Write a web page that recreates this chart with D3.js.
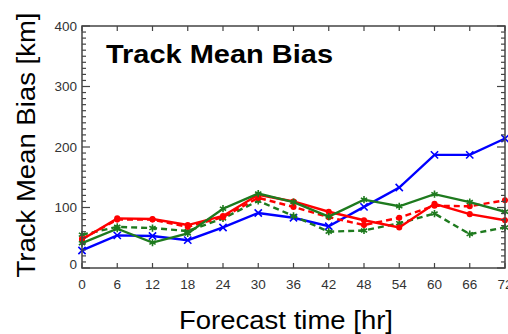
<!DOCTYPE html>
<html>
<head>
<meta charset="utf-8">
<script src="https://cdn.jsdelivr.net/npm/d3@7"></script>
<style>
  html, body { margin: 0; padding: 0; background: #fff; }
  svg { display: block; font-family: "Liberation Sans", Arial, sans-serif; }
</style>
</head>
<body>
<svg id="chart" width="508" height="334"></svg>
<script>
const hours = [0, 6, 12, 18, 24, 30, 36, 42, 48, 54, 60, 66, 72];
const blueSolid  = [29, 54, 53, 46, 67, 91, 83, 69, 101, 133, 187, 187, 214];
const redSolid   = [47, 82, 81, 71, 86, 121, 110, 93, 79, 67, 106, 89, 79];
const redDashed  = [48, 80, 80, 68, 84, 116, 101, 84, 71, 83, 103, 102, 112];
const greenSolid = [41, 65, 42, 57, 98, 123, 109, 85, 113, 102, 122, 109, 93];
const greenDashed= [55, 68, 66, 61, 82, 111, 86, 60, 62, 74, 90, 56, 67];
const yTicks = [0, 100, 200, 300, 400];
const xTicks = hours;
const titleText = "Track Mean Bias";
const xLabel = "Forecast time [hr]";
const yLabel = "Track Mean Bias [km]";

const series = [
  { name: "blue",  values: blueSolid,  color: "#0000ff", dash: null,  sym: d3.symbolTimes },
  { name: "gdash", values: greenDashed, color: "#1e7a1e", dash: "6,4", sym: d3.symbolAsterisk },
  { name: "rdash", values: redDashed,  color: "#ff0000", dash: "6,4", sym: d3.symbolCircle },
  { name: "red",   values: redSolid,   color: "#ff0000", dash: null,  sym: d3.symbolCircle },
  { name: "green", values: greenSolid, color: "#1e7a1e", dash: null,  sym: d3.symbolAsterisk }
];

const L = 82, R = 505, T = 26, B = 268;
const svg = d3.select("#chart");
const x = d3.scaleLinear().domain([0, 72]).range([L, R]);
const y = d3.scaleLinear().domain([0, 400]).range([B, T]);

// series
const line = d3.line().x((d, i) => x(hours[i])).y(d => y(d));
const plot = svg.append("g");
series.forEach(s => {
  plot.append("path")
    .attr("d", line(s.values))
    .attr("fill", "none")
    .attr("stroke", s.color)
    .attr("stroke-width", 2.4)
    .attr("stroke-dasharray", s.dash);
  plot.selectAll(null).data(s.values).enter().append("path")
    .attr("transform", (d, i) => `translate(${x(hours[i])},${y(d)})`)
    .attr("d", d3.symbol().type(s.sym).size(s.sym === d3.symbolCircle ? 16 : 36))
    .attr("fill", s.sym === d3.symbolCircle ? s.color : "none")
    .attr("stroke", s.color)
    .attr("stroke-width", 1.6);
});

// axes box
const axisColor = "#444";
svg.append("rect").attr("x", L).attr("y", T).attr("width", R - L).attr("height", B - T)
  .attr("fill", "none").attr("stroke", axisColor).attr("stroke-width", 1.5);

// y ticks (minor every 10, major every 100) both sides, inward
const yMinor = d3.range(0, 401, 10);
const ytk = svg.append("g").attr("stroke", axisColor).attr("stroke-width", 1.2);
yMinor.forEach(v => {
  const len = v % 100 === 0 ? 8 : 4;
  ytk.append("line").attr("x1", L).attr("x2", L + len).attr("y1", y(v)).attr("y2", y(v));
  ytk.append("line").attr("x1", R).attr("x2", R - len).attr("y1", y(v)).attr("y2", y(v));
});
// x ticks top and bottom, inward
xTicks.forEach(v => {
  ytk.append("line").attr("x1", x(v)).attr("x2", x(v)).attr("y1", B).attr("y2", B - 5);
  ytk.append("line").attr("x1", x(v)).attr("x2", x(v)).attr("y1", T).attr("y2", T + 5);
});

// tick labels
svg.append("g").selectAll("text").data(yTicks).enter().append("text")
  .attr("x", L - 5).attr("y", d => y(d) - (d === 0 ? 4 : 0))
  .attr("dy", "0.36em").attr("text-anchor", "end")
  .attr("font-size", 13.5).attr("fill", "#333")
  .text(d => d);
svg.append("g").selectAll("text").data(xTicks).enter().append("text")
  .attr("x", d => x(d)).attr("y", 284)
  .attr("dy", "0.36em").attr("text-anchor", "middle")
  .attr("font-size", 13.5).attr("fill", "#333")
  .text(d => d);

// title
svg.append("text").attr("x", 106).attr("y", 63)
  .attr("font-size", 25).attr("font-weight", "bold").attr("fill", "#000")
  .attr("textLength", 227).attr("lengthAdjust", "spacingAndGlyphs")
  .text(titleText);

// axis labels
svg.append("text").attr("x", 286).attr("y", 329)
  .attr("text-anchor", "middle").attr("font-size", 26).attr("fill", "#000")
  .attr("textLength", 214).attr("lengthAdjust", "spacingAndGlyphs")
  .text(xLabel);
svg.append("text").attr("transform", "translate(35,145) rotate(-90)")
  .attr("text-anchor", "middle").attr("font-size", 26).attr("fill", "#000")
  .attr("textLength", 265).attr("lengthAdjust", "spacingAndGlyphs")
  .text(yLabel);
</script>
</body>
</html>
